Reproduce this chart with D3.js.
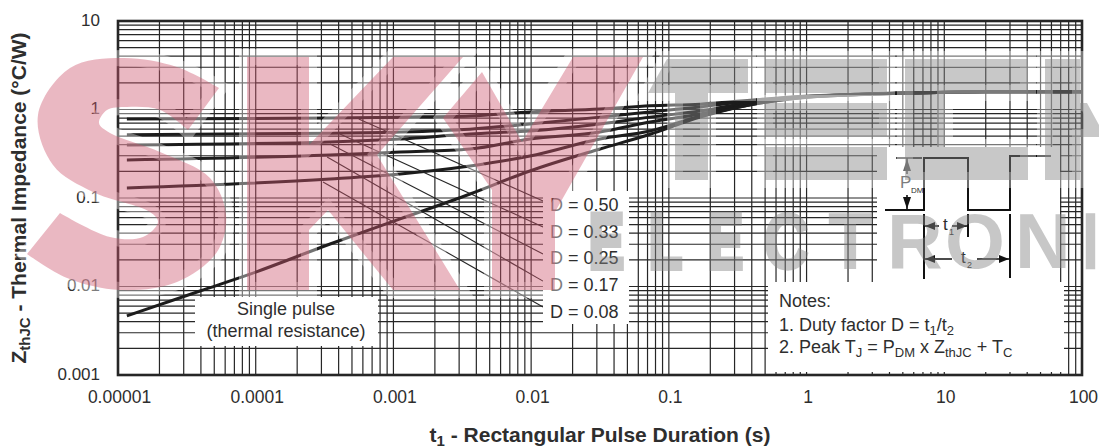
<!DOCTYPE html>
<html>
<head>
<meta charset="utf-8">
<script src="https://cdn.jsdelivr.net/npm/d3@7"></script>
<style>
  body { margin: 0; background: #fff; }
  svg { display: block; }
  text { font-family: "Liberation Sans", Arial, sans-serif; fill: #2e2e2e; }
</style>
</head>
<body>
<div id="chart"></div>
<script>
// values
const durations = [1.16e-5, 3.47e-4, 1.12e-3, 3.6e-3, 9.8e-3, 0.0316, 0.073, 0.169, 0.459, 0.9, 2.07, 4.78, 11, 25.4, 100];
const zD50 = [0.78, 0.8, 0.82, 0.845, 0.94, 1.01, 1.1, 1.15, 1.3, 1.4, 1.48, 1.535, 1.57, 1.585, 1.59];
const zD33 = [0.52, 0.54, 0.557, 0.6, 0.686, 0.82, 0.94, 1.07, 1.28, 1.39, 1.48, 1.535, 1.57, 1.585, 1.59];
const zD25 = [0.397, 0.43, 0.464, 0.529, 0.572, 0.686, 0.82, 0.96, 1.25, 1.38, 1.47, 1.53, 1.57, 1.585, 1.59];
const zD17 = [0.269, 0.306, 0.331, 0.358, 0.464, 0.557, 0.723, 0.89, 1.22, 1.37, 1.47, 1.53, 1.57, 1.585, 1.59];
const zD08 = [0.13, 0.164, 0.187, 0.23, 0.298, 0.464, 0.572, 0.845, 1.18, 1.36, 1.46, 1.53, 1.57, 1.585, 1.59];
const singleDurations = [1.16e-5, 3.94e-5, 9.1e-5, 3.47e-4, 1.12e-3, 3.6e-3, 9.8e-3, 0.0316, 0.073, 0.169, 0.459, 0.9, 2.07, 4.78, 11, 25.4, 100];
const zSingle = [0.00465, 0.0089, 0.0138, 0.0302, 0.058, 0.111, 0.202, 0.358, 0.525, 0.82, 1.18, 1.35, 1.46, 1.53, 1.57, 1.585, 1.59];

const dutyLabels = ["D = 0.50", "D = 0.33", "D = 0.25", "D = 0.17", "D = 0.08"];
const leaderStartT = [5.6e-4, 4.09e-4, 3.47e-4, 3.3e-4, 3.08e-4];
const leaderStartZ = [0.78, 0.528, 0.408, 0.29, 0.152];
const leaderEndT = [0.0122, 0.0122, 0.0122, 0.0122, 0.0122];
const leaderEndZ = [0.0925, 0.047, 0.0233, 0.0115, 0.00586];

const xTickValues = [1e-5, 1e-4, 1e-3, 1e-2, 0.1, 1, 10, 100];
const xTickLabels = ["0.00001", "0.0001", "0.001", "0.01", "0.1", "1", "10", "100"];
const yTickValues = [0.001, 0.01, 0.1, 1, 10];
const yTickLabels = ["0.001", "0.01", "0.1", "1", "10"];

const width = 1099, height = 448;
const margin = { top: 21, right: 17, bottom: 73, left: 118 };
const ink = "#262626";

const svg = d3.select("#chart").append("svg").attr("width", width).attr("height", height);

const x = d3.scaleLog().domain([1e-5, 100]).range([margin.left, width - margin.right]);
const y = d3.scaleLog().domain([0.001, 10]).range([height - margin.bottom, margin.top]);

// grid: all the log ticks, every decade 1..9
svg.append("g").selectAll("line").data(x.ticks()).join("line")
  .attr("x1", d => x(d)).attr("x2", d => x(d))
  .attr("y1", margin.top).attr("y2", height - margin.bottom)
  .attr("stroke", ink).attr("stroke-width", 1.2);
svg.append("g").selectAll("line").data(y.ticks()).join("line")
  .attr("y1", d => y(d)).attr("y2", d => y(d))
  .attr("x1", margin.left).attr("x2", width - margin.right)
  .attr("stroke", ink).attr("stroke-width", 1.2);

// curves
const line = d3.line().x(d => x(d[0])).y(d => y(d[1])).curve(d3.curveMonotoneX);
const curves = [
  d3.zip(durations, zD50), d3.zip(durations, zD33), d3.zip(durations, zD25),
  d3.zip(durations, zD17), d3.zip(durations, zD08), d3.zip(singleDurations, zSingle)
];
svg.append("g").selectAll("path").data(curves).join("path")
  .attr("d", line).attr("fill", "none").attr("stroke", "#1c1c1c").attr("stroke-width", 3);

// leaders from the duty labels
svg.append("g").selectAll("line").data(dutyLabels).join("line")
  .attr("x1", (d, i) => x(leaderStartT[i])).attr("y1", (d, i) => y(leaderStartZ[i]))
  .attr("x2", (d, i) => x(leaderEndT[i])).attr("y2", (d, i) => y(leaderEndZ[i]))
  .attr("stroke", ink).attr("stroke-width", 1.1);

// white boxes that cut the grid: label, duty labels, pulse inset, notes
const boxes = [[195, 297, 183, 49], [543, 191, 86, 133], [877, 147, 183, 135], [768, 282, 296, 90]];
svg.append("g").selectAll("rect").data(boxes).join("rect")
  .attr("x", d => d[0]).attr("y", d => d[1]).attr("width", d => d[2]).attr("height", d => d[3])
  .attr("fill", "#fff");

// frame
svg.append("rect")
  .attr("x", margin.left).attr("y", margin.top)
  .attr("width", width - margin.left - margin.right)
  .attr("height", height - margin.top - margin.bottom)
  .attr("fill", "none").attr("stroke", ink).attr("stroke-width", 2.6);

// axes, labels only
const xAxis = d3.axisBottom(x).tickValues(xTickValues).tickSize(0).tickPadding(0)
  .tickFormat((d, i) => xTickLabels[i]);
const gx = svg.append("g").attr("transform", `translate(1,${height - margin.bottom + 16})`).call(xAxis);
const yAxis = d3.axisLeft(y).tickValues(yTickValues).tickSize(0).tickPadding(0)
  .tickFormat((d, i) => yTickLabels[i]);
const gy = svg.append("g").attr("transform", `translate(${margin.left - 18},-1)`).call(yAxis);
gx.select(".domain").remove();
gy.select(".domain").remove();
gx.selectAll("text").attr("font-size", 17.5);
gy.selectAll("text").attr("font-size", 17);

// helper for labels with subscripts: parts are [string, isSub]
function richText(sel, parts, size, subSize, drop) {
  let down = false;
  parts.forEach(([str, sub]) => {
    const t = sel.append("tspan").text(str);
    if (sub) { t.attr("font-size", subSize).attr("dy", down ? 0 : drop); down = true; }
    else { t.attr("font-size", size).attr("dy", down ? -drop : 0); down = false; }
  });
  return sel;
}

// axis titles
svg.append("text").attr("x", 600).attr("y", 442).attr("text-anchor", "middle").attr("font-weight", "bold")
  .call(richText, [["t", 0], ["1", 1], [" - Rectangular Pulse Duration (s)", 0]], 21, 15, 4);
svg.append("text").attr("transform", "translate(26,198) rotate(-90)").attr("text-anchor", "middle").attr("font-weight", "bold")
  .call(richText, [["Z", 0], ["thJC", 1], [" - Thermal Impedance (°C/W)", 0]], 21, 15, 4);

// duty labels
svg.append("g").selectAll("text").data(dutyLabels).join("text")
  .attr("x", 550).attr("y", (d, i) => [211, 238, 264, 291, 318][i])
  .attr("font-size", 18).text(d => d);

// single pulse label
svg.append("text").attr("x", 286).attr("y", 315).attr("text-anchor", "middle").attr("font-size", 18).text("Single pulse");
svg.append("text").attr("x", 286).attr("y", 337).attr("text-anchor", "middle").attr("font-size", 18).text("(thermal resistance)");

// notes
svg.append("text").attr("x", 779).attr("y", 307).attr("font-size", 18).text("Notes:");
svg.append("text").attr("x", 779).attr("y", 331)
  .call(richText, [["1. Duty factor D = t", 0], ["1", 1], ["/t", 0], ["2", 1]], 18, 13, 4);
svg.append("text").attr("x", 779).attr("y", 353)
  .call(richText, [["2. Peak T", 0], ["J", 1], [" = P", 0], ["DM", 1], [" x Z", 0], ["thJC", 1], [" + T", 0], ["C", 1]], 18, 13, 4);

// pulse schematic
const inset = svg.append("g").attr("fill", "none").attr("stroke", "#111");
inset.append("path").attr("stroke-width", 2).attr("d", "M885,210H924V158H968V210H1010V156H1051");
inset.append("path").attr("stroke-width", 1.6).attr("d", "M896,158H922M907,158V174M907,195V210");
inset.append("path").attr("stroke-width", 2).attr("d", "M924,214V279M968,214V237M1010,214V278");
inset.append("path").attr("stroke-width", 1.4).attr("d", "M924,226H939M952,226H968M924,259H952M977,259H1010");
const heads = svg.append("g").attr("fill", "#111");
["M907,159l-4,12h8z", "M907,209l-4,-12h8z", "M925,226l10,-4v8z", "M967,226l-10,-4v8z", "M925,259l10,-4v8z", "M1009,259l-10,-4v8z"]
  .forEach(d => heads.append("path").attr("d", d));
svg.append("text").attr("x", 900).attr("y", 188).attr("font-size", 17).text("P");
svg.append("text").attr("x", 911).attr("y", 193).attr("font-size", 8).text("DM");
svg.append("text").attr("x", 943).attr("y", 230).attr("font-size", 17).text("t");
svg.append("text").attr("x", 949).attr("y", 235).attr("font-size", 9).text("1");
svg.append("text").attr("x", 961).attr("y", 263).attr("font-size", 17).text("t");
svg.append("text").attr("x", 967).attr("y", 268).attr("font-size", 9).text("2");

// watermark goes over everything, translucent, with a soft white edge
const outline = d3.line().curve(d3.curveCatmullRom);
const sUpper = [[219, 88], [177, 67], [123, 58], [70, 68], [38, 115], [53, 165], [93, 192], [150, 212], [158, 222], [143, 237], [110, 237], [60, 213]];
const sLower = [[27, 254], [67, 278], [120, 290], [177, 282], [217, 252], [226, 215], [210, 178], [160, 152], [110, 133], [99, 123], [107, 110], [127, 107], [160, 110], [188, 130]];
const letterS = outline(sUpper) + "L" + outline(sLower).slice(1) + "Z";
const letterK = "M247,57H309V145L393,57H463L377,155L460,290H393L328,210L309,230V290H247Z";
const letterY = "M482,72L522,142L573,57H643L555,212V290H492V190L443,118Z";
const pinkLetters = [letterS, letterK, letterY];
const grayBars = [
  "M667,59H748V93H648Z", "M675,93H708V180H675Z",
  "M765,59H887V93H765Z", "M765,103H887V136H765Z", "M765,147H887V180H765Z",
  "M905,59H1028V93H945V147H1028V180H905Z",
  "M1045,59H1080V103H1087L1099,125V137H1080V180H1045Z"
];
const tailLetters = ["E", "L", "E", "C", "T", "R", "O", "N", "I"];
const tailX = [589, 649, 708, 764, 829, 887, 945, 1015, 1083];
const tailStretch = [0.68, 0.7, 0.68, 0.8, 0.9, 1, 1, 1, 0.7];
const tailWeight = [5, 5, 5, 3, 2, 0, 0, 0, 2];

const mark = svg.append("g").attr("pointer-events", "none");
const halo = mark.append("g").attr("fill", "none").attr("stroke", "#fff").attr("stroke-opacity", 0.38).attr("stroke-width", 16);
pinkLetters.concat(grayBars).forEach(d => halo.append("path").attr("d", d));
mark.append("g").attr("fill", "rgb(205,86,110)").attr("fill-opacity", 0.42)
  .selectAll("path").data(pinkLetters).join("path").attr("d", d => d);
mark.append("g").attr("fill", "rgb(133,133,133)").attr("fill-opacity", 0.45)
  .selectAll("path").data(grayBars).join("path").attr("d", d => d);
mark.append("g").selectAll("text").data(tailLetters).join("text")
  .attr("transform", (d, i) => `translate(${tailX[i]},268) scale(${tailStretch[i]},1)`)
  .attr("font-size", 77).attr("font-weight", "bold")
  .style("fill", "rgb(133,133,133)")
  .attr("stroke", "rgb(133,133,133)")
  .attr("stroke-width", (d, i) => tailWeight[i])
  .attr("vector-effect", "non-scaling-stroke")
  .attr("opacity", 0.45)
  .text(d => d);
</script>
</body>
</html>
